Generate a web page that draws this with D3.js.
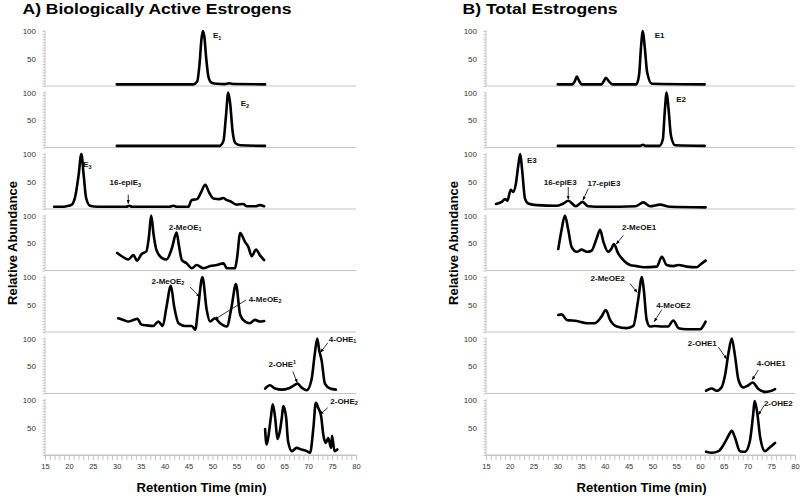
<!DOCTYPE html>
<html><head><meta charset="utf-8">
<script src="https://cdn.jsdelivr.net/npm/d3@7"></script>
<style>
html,body{margin:0;padding:0;background:#fff;}
svg{display:block;font-family:Arial,"Liberation Sans",sans-serif;}
</style></head>
<body>
<svg id="chart" width="800" height="496"></svg>
<script>
// ---------- DATA (retention time in min, relative abundance %) ----------
const xTicks = [15,20,25,30,35,40,45,50,55,60,65,70,75,80];
const yTickLabels = [50,100];

// Panel A: Biologically Active Estrogens
const A_E1 = [[30,3],[46,3],[46.8,8],[47.3,40],[47.7,85],[48,100],[48.3,90],[48.7,50],[49.2,15],[49.8,6],[51,4],[52.5,3.5],[53.5,5],[54.5,3.5],[61,3]];
const A_E2 = [[30,3],[51.5,3],[52.3,12],[52.8,55],[53.3,100],[53.7,80],[54.2,30],[54.8,8],[55.8,4],[61,3]];
const A_E3 = [[16.9,4],[18.5,4],[19.5,5],[20.6,8],[21.3,22],[22,60],[22.6,100],[23.1,60],[23.6,20],[24.4,6],[26,4],[30,4],[32,4],[32.6,6],[33.2,4],[41,4],[41.8,6],[42.6,4],[45,4],[45.6,16],[46.8,18],[47.6,30],[48.5,44],[49.3,30],[50.2,19],[51.5,18],[52.3,20],[53,16],[53.7,14],[55,8],[56.4,9],[57.2,5],[59,5],[59.9,7],[60.8,5]];
const A_MeOE1 = [[30.1,32],[31.2,25],[32.4,20],[33.5,28],[34.2,18],[35.2,30],[36.2,35],[36.7,60],[37.2,100],[37.7,65],[38.3,37],[39.4,23],[40.4,20],[41.5,40],[42.5,69],[43,45],[43.6,19],[44.6,13],[45.7,4],[46.7,10],[48.1,4],[49.5,8],[50.9,10],[52.3,13],[53,4],[54.7,4],[55.1,20],[55.8,68],[56.8,52],[57.5,43],[58.2,26],[59.1,38],[59.9,28],[60.8,19]];
const A_MeOE2 = [[30.3,25],[31.4,22],[32.4,19],[33.5,22],[34.3,24],[35.2,13],[36.3,12],[37.6,11],[38.7,19],[39.6,11],[40.4,46],[41.3,84],[42,46],[42.9,16],[44.3,11],[45.7,11],[46.4,4],[47,43],[47.9,100],[48.8,40],[49.5,19],[50.5,25],[51.6,16],[53,10],[54,46],[54.9,87],[55.8,31],[56.8,19],[57.8,16],[58.9,22],[59.9,19],[60.8,20]];
const A_OHE1 = [[61,9],[62,15],[63.1,9],[64.5,7],[65.8,9],[66.9,14],[67.8,18],[68.6,11],[69.7,6],[70.7,25],[71.4,73],[71.9,100],[72.3,79],[72.8,61],[73.5,18],[74.6,9],[75.8,7]];
const A_OHE2 = [[61,47],[61.3,19],[61.6,29],[62.2,68],[62.6,92],[63.1,68],[63.6,29],[64.1,44],[64.5,68],[64.8,89],[65.4,68],[65.8,25],[66.6,7],[67.6,13],[68.6,10],[69.7,7],[70.4,4],[71.1,50],[71.6,95],[72.1,86],[72.7,71],[73.2,35],[73.7,22],[74.2,31],[74.8,13],[75,35],[75.5,7],[76.1,10]];

// Panel B: Total Estrogens
const B_E1 = [[30.1,3],[33.2,3],[33.7,9],[34.1,17],[34.6,9],[35.1,3],[39.3,3],[39.8,9],[40.2,15],[40.9,8],[41.6,3],[46.6,3],[47.2,20],[47.6,70],[48,100],[48.4,70],[48.9,25],[49.9,4],[61,3]];
const B_E2 = [[30.1,3],[47.4,3],[48,5],[48.6,3],[51.5,3],[52.2,15],[52.6,65],[53,100],[53.4,70],[53.9,22],[54.8,4],[61,3]];
const B_E3 = [[17.1,9],[18.3,13],[19,18],[19.5,15],[20.2,35],[20.7,31],[21.3,47],[21.8,80],[22.2,100],[22.6,71],[23.2,19],[23.9,10],[25.7,7],[29.9,6],[31.3,10],[32.3,15],[33.9,5],[35.3,13],[36.5,5],[39.7,4],[46.5,5],[48.1,12],[49.5,5],[51.6,8],[53.7,4],[61.2,3]];
const B_MeOE1 = [[30.2,39],[30.9,74],[31.6,100],[32.3,74],[33,43],[34.1,34],[35.1,38],[36.2,34],[37.2,36],[38.3,59],[39,74],[39.7,52],[40.7,34],[41.4,40],[41.9,48],[42.8,31],[43.9,19],[45.3,10],[46.7,8],[48.1,6],[50.9,7],[52,25],[53,10],[54.4,8],[55.5,10],[57.2,7],[59.3,6],[60.4,13],[61.2,18]];
const B_MeOE2 = [[30.2,31],[30.9,32],[32,22],[34.1,20],[36.2,16],[37.9,16],[39.3,28],[40.2,40],[41.1,22],[42.5,10],[44.6,7],[46,11],[47,58],[47.8,100],[48.2,76],[48.8,22],[49.5,10],[50.5,11],[52,10],[53.3,10],[54.4,21],[55.5,7],[57.2,5],[60,5],[61.2,19]];
const B_OHE1 = [[61.3,5],[62.5,9],[63.5,5],[64.6,12],[65.3,34],[66,73],[66.7,100],[67.4,67],[68.1,25],[69.1,11],[70.2,15],[71.1,20],[72.3,8],[73.7,3],[74.7,4],[75.8,8]];
const B_OHE2 = [[61.3,6],[62.5,4],[63.9,7],[65,19],[66,35],[66.7,44],[67.4,31],[68.4,7],[69.5,6],[70.5,25],[71.2,74],[71.5,98],[72,80],[72.7,31],[73.7,7],[74.6,13],[75.8,22]];

const panelA = [A_E1, A_E2, A_E3, A_MeOE1, A_MeOE2, A_OHE1, A_OHE2];
const panelB = [B_E1, B_E2, B_E3, B_MeOE1, B_MeOE2, B_OHE1, B_OHE2];

// annotations: subplot index, text anchor (t, v), optional arrow from/to (t, v)
const annA = [
  {i:0, t:50.1, v:87, main:"E", sub:"1", anchor:"start"},
  {i:1, t:55.9, v:75, main:"E", sub:"2", anchor:"start"},
  {i:2, t:23.0, v:76, main:"E", sub:"3", anchor:"start"},
  {i:2, t:31.8, v:43, main:"16-epiE", sub:"3", arrow:[[32.4,26],[32.4,10]]},
  {i:3, t:44.3, v:74, main:"2-MeOE", sub:"1"},
  {i:4, t:40.7, v:88, main:"2-MeOE", sub:"2", arrow:[[45.3,82],[47.3,64]]},
  {i:4, t:61.0, v:55, main:"4-MeOE", sub:"2", arrow:[[57.0,58],[50.5,23]]},
  {i:5, t:64.6, v:48, main:"2-OHE", sup:"1", arrow:[[66.8,40],[67.7,20]]},
  {i:5, t:77.2, v:94, main:"4-OHE", sub:"1", arrow:[[74.1,92],[72.6,75]]},
  {i:6, t:77.5, v:93, main:"2-OHE", sub:"2", arrow:[[74.1,86],[72.5,74]]}
];
const annB = [
  {i:0, t:50.5, v:88, main:"E1", anchor:"start"},
  {i:1, t:55.0, v:82, main:"E2", anchor:"start"},
  {i:2, t:23.6, v:84, main:"E3", anchor:"start"},
  {i:2, t:30.6, v:44.5, main:"16-epiE3", arrow:[[32.3,40],[32.3,18]]},
  {i:2, t:39.8, v:42, main:"17-epiE3", arrow:[[36.5,37],[35.4,16]]},
  {i:3, t:47.2, v:74.5, main:"2-MeOE1", arrow:[[43.9,64],[42.4,48]]},
  {i:4, t:40.6, v:93, main:"2-MeOE2", arrow:[[45.3,88],[46.8,72]]},
  {i:4, t:54.4, v:43.6, main:"4-MeOE2", arrow:[[52.0,41],[50.4,19]]},
  {i:5, t:60.5, v:87, main:"2-OHE1", arrow:[[63.9,84],[65.6,63]]},
  {i:5, t:75.0, v:50, main:"4-OHE1", arrow:[[72.3,43],[71.0,25]]},
  {i:6, t:76.5, v:90, main:"2-OHE2", arrow:[[73.5,90],[72.3,73]]}
];

// ---------- LAYOUT ----------
const svg = d3.select("#chart");
const subTop0 = 31, subPitch = 61.5, subH = 55;
const axisGray = "#c4c4c4";

svg.append("defs").append("marker")
  .attr("id","arrow").attr("viewBox","0 0 10 10").attr("refX",9).attr("refY",5)
  .attr("markerWidth",5).attr("markerHeight",5).attr("orient","auto")
  .append("path").attr("d","M0,1 L10,5 L0,9 Z").attr("fill","#000");

function drawPanel(traces, anns, x0, x1, title, titleX, titleLen) {
  const x = d3.scaleLinear().domain([15,80]).range([x0,x1]);
  const g = svg.append("g");
  const n = traces.length;
  traces.forEach((data, i) => {
    const y = d3.scaleLinear().domain([0,100]).range([subTop0 + subPitch*i + subH, subTop0 + subPitch*i]);
    g.append("line").attr("x1",x0).attr("x2",x1).attr("y1",y(0)).attr("y2",y(0))
      .attr("stroke",axisGray).attr("stroke-width",1);
    const yAxis = d3.axisLeft(y).tickValues(d3.range(0,101,5)).tickSize(2.5).tickFormat("");
    const ya = g.append("g").attr("transform",`translate(${x0},0)`).call(yAxis);
    ya.selectAll("path,line").attr("stroke",axisGray);
    ya.select(".domain").attr("d",`M0,${y(0)}V${y(100)-1}`);
    const yl = d3.axisLeft(y).tickValues(yTickLabels).tickSize(0).tickPadding(9);
    const yl2 = g.append("g").attr("transform",`translate(${x0},0)`).call(yl);
    yl2.select(".domain").remove();
    yl2.selectAll("text").attr("font-size",8).attr("fill","#333").attr("font-family","Arial,'Liberation Sans',sans-serif");
    const line = d3.line().x(d=>x(d[0])).y(d=>y(d[1])).curve(d3.curveMonotoneX);
    g.append("path").datum(data).attr("d",line).attr("fill","none")
      .attr("stroke","#000").attr("stroke-width",2.6).attr("stroke-linejoin","round").attr("stroke-linecap","round");
    if (i === n-1) {
      const xa = d3.axisBottom(x).tickValues(d3.range(15,81,1)).tickSize(5).tickFormat("");
      const xg = g.append("g").attr("transform",`translate(0,${y(0)})`).call(xa);
      xg.selectAll("path,line").attr("stroke",axisGray);
      const xl = d3.axisBottom(x).tickValues(xTicks).tickSize(0).tickPadding(9).tickFormat(d3.format("d"));
      const xlg = g.append("g").attr("transform",`translate(0,${y(0)})`).call(xl);
      xlg.select(".domain").remove();
      xlg.selectAll("text").attr("font-size",7.5).attr("fill","#333").attr("font-family","Arial,'Liberation Sans',sans-serif");
    }
  });
  anns.forEach(a => {
    const y = d3.scaleLinear().domain([0,100]).range([subTop0 + subPitch*a.i + subH, subTop0 + subPitch*a.i]);
    const t = g.append("text").attr("x",x(a.t)).attr("y",y(a.v))
      .attr("text-anchor",a.anchor||"middle").attr("font-size",8).attr("font-weight","bold").attr("fill","#111");
    t.append("tspan").text(a.main);
    if (a.sub) t.append("tspan").attr("font-size",5.5).attr("dy",1.5).text(a.sub);
    if (a.sup) t.append("tspan").attr("font-size",5.5).attr("dy",-3).text(a.sup);
    if (a.arrow) {
      g.append("line").attr("x1",x(a.arrow[0][0])).attr("y1",y(a.arrow[0][1]))
        .attr("x2",x(a.arrow[1][0])).attr("y2",y(a.arrow[1][1]))
        .attr("stroke","#000").attr("stroke-width",0.8).attr("marker-end","url(#arrow)");
    }
  });
  svg.append("text").attr("x",titleX).attr("y",13.5).attr("font-size",15.5).attr("font-weight","bold")
    .attr("fill","#000").attr("textLength",titleLen).attr("lengthAdjust","spacingAndGlyphs").text(title);
  svg.append("text").attr("x",(x0+x1)/2 + 1).attr("y",492).attr("text-anchor","middle")
    .attr("font-size",13).attr("font-weight","bold").attr("fill","#000")
    .attr("textLength",130).attr("lengthAdjust","spacingAndGlyphs").text("Retention Time (min)");
}

drawPanel(panelA, annA, 45, 356, "A) Biologically Active Estrogens", 22.5, 269);
drawPanel(panelB, annB, 486, 795, "B) Total Estrogens", 462.5, 155);

svg.append("text").attr("transform","translate(17,243) rotate(-90)").attr("text-anchor","middle")
  .attr("font-size",13).attr("font-weight","bold").text("Relative Abundance");
svg.append("text").attr("transform","translate(458,243) rotate(-90)").attr("text-anchor","middle")
  .attr("font-size",13).attr("font-weight","bold").text("Relative Abundance");
</script>
</body></html>
